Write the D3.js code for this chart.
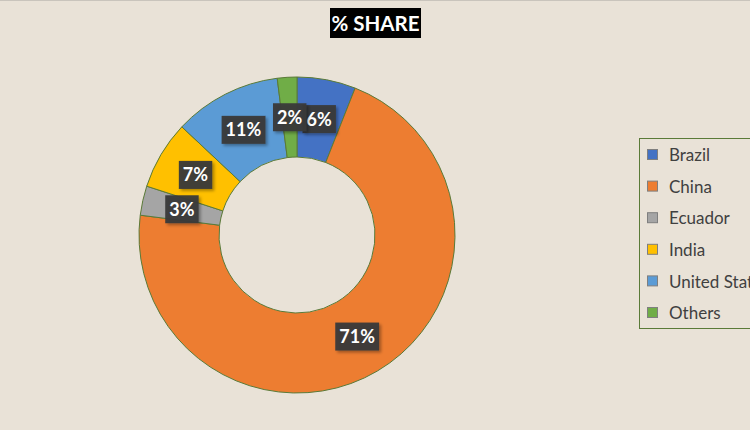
<!DOCTYPE html>
<html>
<head>
<meta charset="utf-8">
<script src="https://cdn.jsdelivr.net/npm/d3@7"></script>
<style>
  html, body { margin: 0; padding: 0; background: #e9e2d7; overflow: hidden; }
  svg { display: block; }
</style>
</head>
<body>
<svg id="chart" width="750" height="430"></svg>
<script>
const categories = ["Brazil", "China", "Ecuador", "India", "United States", "Others"];
const shares = [6, 71, 3, 7, 11, 2];
const colors = ["#4472C4", "#ED7D31", "#A5A5A5", "#FFC000", "#5B9BD5", "#70AD47"];
const title = "% SHARE";

const svg = d3.select("#chart");
const W = 750, H = 430;

// background
svg.append("rect").attr("width", W).attr("height", H).attr("fill", "#e9e2d7");
svg.append("line").attr("x1", 0).attr("x2", W).attr("y1", 0.5).attr("y2", 0.5)
  .attr("stroke", "#c9c4bc").attr("stroke-width", 1);

const defs = svg.append("defs");
const f = defs.append("filter").attr("id", "shadow").attr("x", "-30%").attr("y", "-30%").attr("width", "160%").attr("height", "160%");
f.append("feDropShadow").attr("dx", 2).attr("dy", 2).attr("stdDeviation", 1.5).attr("flood-color", "#000").attr("flood-opacity", 0.35);

// title
const tg = svg.append("g");
tg.append("rect").attr("x", 330).attr("y", 8).attr("width", 91).attr("height", 30).attr("fill", "#000");
tg.append("text").attr("x", 375.5).attr("y", 30.5).attr("text-anchor", "middle")
  .attr("font-family", "Lato, 'Open Sans', sans-serif").attr("font-weight", "bold")
  .attr("font-size", 20.5).attr("fill", "#ffffff").text(title);

// donut
const cx = 297, cy = 235, R = 158, r = 78;
const color = d3.scaleOrdinal().domain(categories).range(colors);
const pie = d3.pie().value(d => d.v).sort(null);
const data = categories.map((c, i) => ({ c, v: shares[i] }));
const arcs = pie(data);
const arc = d3.arc().innerRadius(r).outerRadius(R);
const labelArc = d3.arc().innerRadius((R + r) / 2).outerRadius((R + r) / 2);

const g = svg.append("g").attr("transform", `translate(${cx},${cy})`);
g.selectAll("path").data(arcs).join("path")
  .attr("d", arc)
  .attr("fill", d => color(d.data.c))
  .attr("stroke", "#5a7a38").attr("stroke-width", 1);

const lg = g.selectAll("g.lbl").data(arcs).join("g").attr("class", "lbl")
  .attr("transform", d => `translate(${labelArc.centroid(d)})`);
lg.each(function(d) {
  const s = d3.select(this);
  const txt = s.append("text").attr("text-anchor", "middle").attr("dy", "0.36em")
    .attr("font-family", "Lato, 'Open Sans', sans-serif").attr("font-weight", "bold")
    .attr("font-size", 18).attr("fill", "#ffffff").text(d.data.v + "%");
  const b = txt.node().getBBox();
  const pw = 4, ph = 28;
  s.insert("rect", "text").attr("x", b.x - pw).attr("y", -ph / 2).attr("width", b.width + 2 * pw).attr("height", ph)
    .attr("fill", "#3a3a3a").attr("fill-opacity", 0.95).attr("filter", "url(#shadow)");
});

// legend
const leg = svg.append("g");
leg.append("rect").attr("x", 639.5).attr("y", 138.5).attr("width", 130).attr("height", 190)
  .attr("fill", "none").attr("stroke", "#5a7a38").attr("stroke-width", 1);
const ly = d3.scalePoint().domain(categories).range([155, 313]);
const li = leg.selectAll("g.li").data(categories).join("g").attr("class", "li")
  .attr("transform", d => `translate(0,${ly(d)})`);
li.append("rect").attr("x", 647.5).attr("y", -5.5).attr("width", 10).attr("height", 10)
  .attr("fill", d => color(d)).attr("stroke", "#7f7f7f").attr("stroke-width", 1);
li.append("text").attr("x", 669).attr("y", 0).attr("dy", "0.36em")
  .attr("font-family", "Lato, 'Open Sans', sans-serif").attr("font-size", 17)
  .attr("fill", "#404040").text(d => d);
</script>
</body>
</html>
